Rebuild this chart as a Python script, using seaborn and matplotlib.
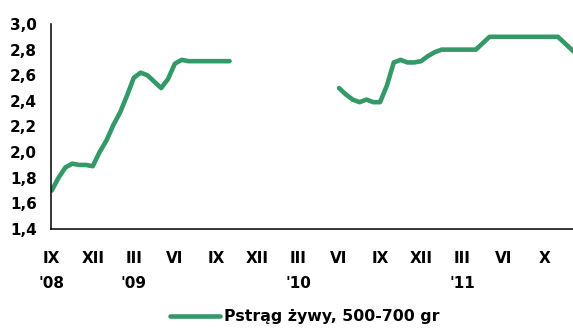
import numpy as np
import pandas as pd
import matplotlib
matplotlib.use("Agg")
import matplotlib.pyplot as plt
import seaborn as sns

# Months counted from September 2008 (0 = IX '08)
months_a = [0, 0.5, 1.0, 1.5, 2.0, 2.5, 3.0, 3.5, 4.0, 4.5, 5.0, 5.5, 6.0, 6.5,
            7.0, 7.5, 8.0, 8.5, 9.0, 9.5, 10.0, 11.0, 12.0, 13.0]
price_a = [1.70, 1.80, 1.88, 1.91, 1.90, 1.90, 1.89, 2.00, 2.09, 2.21, 2.31, 2.44,
           2.58, 2.62, 2.60, 2.55, 2.50, 2.57, 2.69, 2.72, 2.71, 2.71, 2.71, 2.71]

months_b = [21.0, 21.5, 22.0, 22.5, 23.0, 23.5, 24.0, 24.5, 25.0, 25.5, 26.0, 26.5,
            27.0, 27.5, 28.0, 28.5, 29.5, 30.5, 31.0, 31.5, 32.0, 33.0, 34.0, 35.0,
            36.0, 37.0, 37.5, 38.2]
price_b = [2.50, 2.45, 2.41, 2.39, 2.41, 2.39, 2.39, 2.52, 2.70, 2.72, 2.70, 2.70,
           2.71, 2.75, 2.78, 2.80, 2.80, 2.80, 2.80, 2.85, 2.90, 2.90, 2.90, 2.90,
           2.90, 2.90, 2.85, 2.78]

tick_months = [0, 3, 6, 9, 12, 15, 18, 21, 24, 27, 30, 33, 36]
tick_labels = ["IX\n'08", "XII", "III\n'09", "VI", "IX", "XII", "III\n'10", "VI",
               "IX", "XII", "III\n'11", "VI", "X"]
y_ticks = [1.4, 1.6, 1.8, 2.0, 2.2, 2.4, 2.6, 2.8, 3.0]

series_name = "Pstrąg żywy, 500-700 gr"
green = "#339966"

sns.set_style("white")
plt.rcParams["font.family"] = ["DejaVu Sans"]
plt.rcParams["font.weight"] = "bold"
plt.rcParams["text.color"] = "black"
plt.rcParams["xtick.color"] = "black"
plt.rcParams["ytick.color"] = "black"

fig = plt.figure(figsize=(5.73, 3.29), dpi=100)
ax = fig.add_axes([51 / 573, 1 - 229 / 329, 1 - 51 / 573, (229 - 24) / 329])

df_a = pd.DataFrame({"month": months_a, "price": price_a})
df_b = pd.DataFrame({"month": months_b, "price": price_b})
sns.lineplot(data=df_a, x="month", y="price", ax=ax, color=green, lw=3.3,
             label=series_name, solid_capstyle="round", solid_joinstyle="round")
sns.lineplot(data=df_b, x="month", y="price", ax=ax, color=green, lw=3.3,
             solid_capstyle="round", solid_joinstyle="round")

ax.set_xlim(-0.05, 38.1)
ax.set_ylim(1.4, 3.0)
ax.set_xticks(tick_months)
ax.set_xticklabels(tick_labels, fontsize=11, fontweight="bold", linespacing=1.85,
                   color="black")
ax.set_yticks(y_ticks)
ax.set_yticklabels([f"{v:.1f}".replace(".", ",") for v in y_ticks],
                   fontsize=11, fontweight="bold", color="black")
ax.set_xlabel("")
ax.set_ylabel("")

for side in ("top", "right"):
    ax.spines[side].set_visible(False)
for side in ("left", "bottom"):
    ax.spines[side].set_color("black")
    ax.spines[side].set_linewidth(1.1)

ax.tick_params(axis="y", direction="out", length=5, width=1.1, pad=5, color="black")
ax.tick_params(axis="x", direction="out", length=3, width=1.1, pad=13, color="black")

ax.get_legend().remove()
handles, labels = ax.get_legend_handles_labels()
fig.legend(handles, labels, loc="center", bbox_to_anchor=(305 / 573, 1 - 317 / 329),
           frameon=False, handlelength=3.2, handletextpad=0.25,
           prop={"size": 11.3, "weight": "bold"}, labelcolor="black")

fig.savefig("out.png", dpi=100)
